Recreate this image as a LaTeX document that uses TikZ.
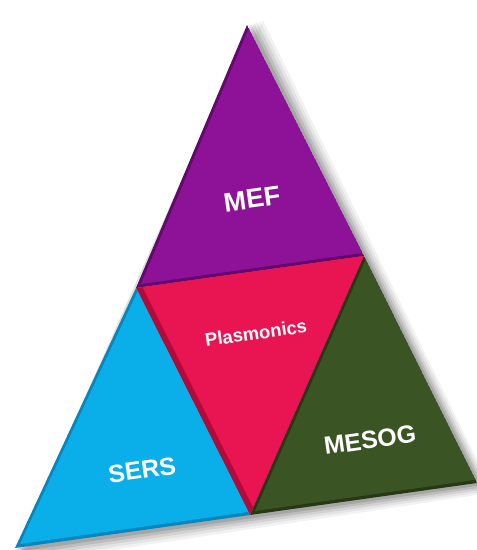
\documentclass[tikz,border=0pt]{standalone}
\usepackage{fontspec}
\setmainfont{Liberation Sans}
\definecolor{mefc}{RGB}{142,18,152}
\definecolor{mefd}{RGB}{100,8,110}
\definecolor{plc}{RGB}{233,20,82}
\definecolor{pld}{RGB}{180,10,58}
\definecolor{sersc}{RGB}{10,174,232}
\definecolor{sersd}{RGB}{5,135,190}
\definecolor{mesc}{RGB}{59,84,36}
\definecolor{mesd}{RGB}{38,56,20}
\tikzset{
  lbl/.style={text=white,font=\bfseries,rotate=8,inner sep=0pt},
}
\begin{document}
\begin{tikzpicture}[x=1bp,y=-1bp]
\useasboundingbox (0,0) rectangle (477,550);
\coordinate (A) at (247,25);
\coordinate (B) at (15,548);
\coordinate (C) at (477,483);
\coordinate (D) at (136,288);
\coordinate (E) at (364,256);
\coordinate (F) at (250,515);
% shadow
\foreach \o/\op in {16/0.05,13/0.06,10/0.08,7/0.1,4/0.12}{
  \fill[black,opacity=\op] ([shift={(\o,-\o*0.3)}]A) -- ([shift={(\o,\o*0.6)}]C) -- ([shift={(\o*0.3,\o)}]B) -- cycle;
}
% triangles with bevel
\newcommand{\bevtri}[5]{%
  \begin{scope}
    \clip (#1) -- (#2) -- (#3) -- cycle;
    \fill[#5] (#1) -- (#2) -- (#3) -- cycle;
    \fill[#4] ([shift={(5,-4)}]#1) -- ([shift={(5,-4)}]#2) -- ([shift={(5,-4)}]#3) -- cycle;
  \end{scope}}
\bevtri{A}{D}{E}{mefc}{mefd}
\bevtri{D}{E}{F}{plc}{pld}
\bevtri{D}{B}{F}{sersc}{sersd}
\bevtri{E}{F}{C}{mesc}{mesd}
% labels
\node[lbl,font=\bfseries\fontsize{27}{27}\selectfont] (mef) at (252,199) {MEF};
\node[lbl,font=\bfseries\fontsize{18.5}{18.5}\selectfont] (pl) at (256,333) {Plasmonics};
\node[lbl,font=\bfseries\fontsize{25}{25}\selectfont] (sers) at (142,470) {SERS};
\node[lbl,font=\bfseries\fontsize{25}{25}\selectfont] (mesog) at (370,440) {MESOG};
\end{tikzpicture}
\end{document}
